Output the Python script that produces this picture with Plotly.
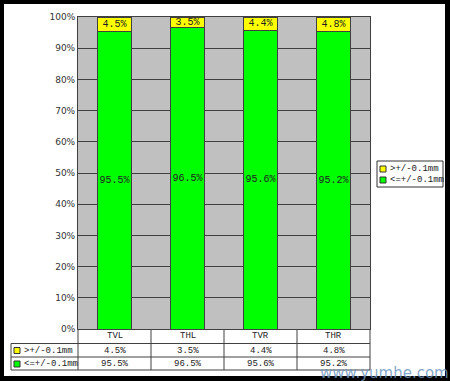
import plotly.graph_objects as go

categories = ["TVL", "THL", "TVR", "THR"]
over_vals = [4.5, 3.5, 4.4, 4.8]          # >+/-0.1mm  (%)
within_vals = [95.5, 96.5, 95.6, 95.2]    # <=+/-0.1mm (%)
series_names = ["<=+/-0.1mm", ">+/-0.1mm"]
y_ticks = [0, 10, 20, 30, 40, 50, 60, 70, 80, 90, 100]

W, H = 450, 381
L, R, T, B = 78, 370, 17, 329  # plot area in pixels
PW, PH = R - L, B - T


def px(x):
    return (x - L) / PW


def py(y):
    return (B - y) / PH


GREEN = "#00FF00"
YELLOW = "#FFFF00"
FONT = "Liberation Mono"

fig = go.Figure()
fig.add_trace(go.Bar(
    x=categories, y=[v / 100 for v in within_vals], name=series_names[0],
    marker=dict(color=GREEN, line=dict(color="#404040", width=1)),
    text=[f"{v:.1f}%" for v in within_vals], textposition="inside",
    insidetextanchor="middle", constraintext="none", textangle=0,
    textfont=dict(family=FONT, size=10, color="#222"),
    width=0.47, showlegend=False, hoverinfo="skip",
))
fig.add_trace(go.Bar(
    x=categories, y=[v / 100 for v in over_vals], name=series_names[1],
    marker=dict(color=YELLOW, line=dict(color="#404040", width=1)),
    text=[f"{v:.1f}%" for v in over_vals], textposition="inside",
    insidetextanchor="middle", constraintext="none", textangle=0,
    textfont=dict(family=FONT, size=10, color="#222"),
    width=0.47, showlegend=False, hoverinfo="skip",
))

shapes = []
annotations = []


def rect(x0, y0, x1, y1, fill=None, line=None, lw=1):
    shapes.append(dict(type="rect", xref="paper", yref="paper",
                       x0=px(x0), x1=px(x1), y0=py(y0), y1=py(y1),
                       fillcolor=fill if fill else "rgba(0,0,0,0)",
                       line=dict(color=line if line else "rgba(0,0,0,0)", width=lw if line else 0),
                       layer="above"))


def hline(x0, x1, y, color="#404040"):
    shapes.append(dict(type="line", xref="paper", yref="paper",
                       x0=px(x0), x1=px(x1), y0=py(y), y1=py(y),
                       line=dict(color=color, width=1), layer="above"))


def vline(x, y0, y1, color="#404040"):
    shapes.append(dict(type="line", xref="paper", yref="paper",
                       x0=px(x), x1=px(x), y0=py(y0), y1=py(y1),
                       line=dict(color=color, width=1), layer="above"))


def text(x, y, s, anchor="center", size=9, color="#222", family=FONT):
    annotations.append(dict(xref="paper", yref="paper", x=px(x), y=py(y), text=s,
                            showarrow=False, xanchor=anchor, yanchor="middle",
                            font=dict(family=family, size=size, color=color)))


# table below the plot
row_y = [336, 350.5, 364]
hline(11, R, 343.5)
hline(11, R, 357)
hline(11, R, 370)
vline(11, 343.5, 370)
col_edges = [L + i * PW / 4 for i in range(5)]
for xe in col_edges:
    vline(xe, B, 370)
for i, c in enumerate(categories):
    cx = (col_edges[i] + col_edges[i + 1]) / 2
    text(cx, row_y[0], c)
    text(cx, row_y[1], f"{over_vals[i]:.1f}%")
    text(cx, row_y[2], f"{within_vals[i]:.1f}%")
# table legend keys
rect(14, 347.5, 20, 353.5, fill=YELLOW, line="#333")
text(22, row_y[1], series_names[1], anchor="left")
rect(14, 361, 20, 367, fill=GREEN, line="#333")
text(22, row_y[2], series_names[0], anchor="left")

# legend box
rect(377, 161, 443, 187, fill="white", line="#333")
rect(380, 166, 386, 172, fill=YELLOW, line="#333")
text(388, 169, series_names[1], anchor="left")
rect(380, 177, 386, 183, fill=GREEN, line="#333")
text(388, 180, series_names[0], anchor="left")

# black frame
rect(0, 0, 4, H, fill="black")
rect(445, 0, W, H, fill="black")
rect(0, 0, W, 4, fill="black")
rect(0, 376, W, H, fill="black")

# watermark
text(451, 373, "www.yumhe.com", anchor="right", size=15, color="rgba(110,150,190,0.85)",
     family="DejaVu Sans")

fig.update_layout(
    width=W, height=H,
    margin=dict(l=L, r=W - R, t=T, b=H - B, pad=0),
    paper_bgcolor="white", plot_bgcolor="#C0C0C0",
    barmode="stack", bargap=0.53,
    shapes=shapes, annotations=annotations,
    showlegend=False, hovermode=False,
)
fig.update_xaxes(showticklabels=False, ticks="", showgrid=False,
                 showline=True, linecolor="#404040", linewidth=1, mirror=True,
                 range=[-0.5, 3.5])
fig.update_yaxes(range=[0, 1], tickvals=[v / 100 for v in y_ticks],
                 ticktext=[f"{v}%" for v in y_ticks],
                 tickfont=dict(family="DejaVu Sans", size=9, color="#333"),
                 showgrid=True, gridcolor="#404040", gridwidth=1,
                 showline=True, linecolor="#404040", linewidth=1, mirror=True,
                 ticks="", ticklen=0, zeroline=False)

fig.write_html("out.html", config={"displayModeBar": False},
               post_script="document.body.style.margin='0';document.body.style.overflow='hidden';")
